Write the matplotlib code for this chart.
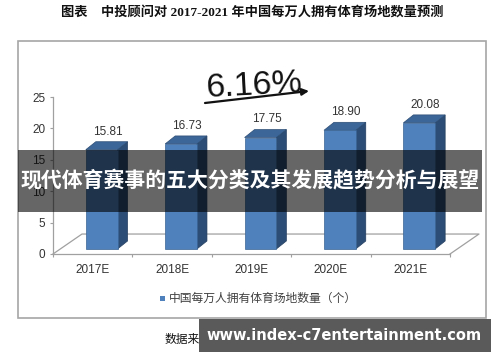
import matplotlib
matplotlib.use("Agg")
import matplotlib.pyplot as plt
from matplotlib.patches import Polygon, Rectangle

plt.rcParams['font.family'] = ['Liberation Sans', 'Noto Sans CJK SC', 'DejaVu Sans']

categories = ['2017E', '2018E', '2019E', '2020E', '2021E']
values = [15.81, 16.73, 17.75, 18.90, 20.08]
value_labels = ['15.81', '16.73', '17.75', '18.90', '20.08']
yticks = [0, 5, 10, 15, 20, 25]
title = '图表    中投顾问对 2017-2021 年中国每万人拥有体育场地数量预测'
legend_label = '中国每万人拥有体育场地数量（个）'
growth = '6.16%'
source = '数据来源：中投顾问产业研究中心'
overlay_text = '现代体育赛事的五大分类及其发展趋势分析与展望'
watermark = 'www.index-c7entertainment.com'

W, H = 500, 362
fig = plt.figure(figsize=(W / 100, H / 100), dpi=100)
fig.patch.set_facecolor('white')

def fx(px):
    return px / W

def fy(py):
    return 1 - py / H

# chart border
fig.add_artist(Rectangle((fx(18), fy(318)), fx(468), 277 / H, fill=False,
                         edgecolor='#a6a6a6', lw=1.2, zorder=1))

ax = fig.add_axes([fx(53), fy(254), 397 / W, (254 - 97) / H])
ax.set_xlim(-0.5, 4.5)
ax.set_ylim(0, 25)
ax.set_facecolor('none')
for s in ['top', 'right']:
    ax.spines[s].set_visible(False)
for s in ['left', 'bottom']:
    ax.spines[s].set_color('#a0a0a0')
    ax.spines[s].set_linewidth(0.9)

ax.set_yticks(yticks)
ax.set_yticklabels([str(t) for t in yticks])
ax.tick_params(axis='y', length=2.5, width=0.8, color='#a0a0a0', pad=3,
               labelsize=8.5, labelcolor='#333333')
ax.set_xticks(range(len(categories)))
ax.set_xticklabels(categories)
ax.set_xticks([i - 0.5 for i in range(len(categories) + 1)], minor=True)
ax.tick_params(axis='x', which='major', length=0, pad=7, labelsize=8.5,
               labelcolor='#333333')
ax.tick_params(axis='x', which='minor', length=2.5, width=0.8, color='#a0a0a0')

# 3D floor
fdx, fdy = 0.365, 3.18
ax.plot([-0.5, -0.5 + fdx, 4.5 + fdx, 4.5], [0, fdy, fdy, 0],
        color='#a0a0a0', lw=0.9, clip_on=False)

# bars (pseudo-3D)
bw = 0.40
ox, oy = 0.113, 0.8      # front offset
ddx, ddy = 0.126, 1.27   # depth
front_c, side_c, top_c = '#4f81bd', '#2c4d75', '#3c6698'
for i, v in enumerate(values):
    x0 = i + ox - bw / 2
    x1 = x0 + bw
    y0 = oy
    y1 = oy + v
    ax.add_patch(Polygon([(x1, y0), (x1 + ddx, y0 + ddy), (x1 + ddx, y1 + ddy), (x1, y1)],
                         closed=True, facecolor=side_c, edgecolor='#243f60', lw=0.5,
                         clip_on=False, zorder=3))
    ax.add_patch(Polygon([(x0, y1), (x0 + ddx, y1 + ddy), (x1 + ddx, y1 + ddy), (x1, y1)],
                         closed=True, facecolor=top_c, edgecolor='#2c4d75', lw=0.5,
                         clip_on=False, zorder=3))
    ax.add_patch(Rectangle((x0, y0), bw, v, facecolor=front_c, edgecolor='#3a6595',
                           lw=0.5, clip_on=False, zorder=3))
    ax.annotate(value_labels[i], (i + 0.19, y1 + ddy), xytext=(0, 3),
                textcoords='offset points', ha='center', va='bottom',
                fontsize=8.5, color='#333333', zorder=4)

# title
fig.text(fx(252), fy(12), title, ha='center', va='center', fontsize=9.5,
         fontweight='bold', family=['Liberation Serif', 'Noto Sans CJK SC', 'DejaVu Sans'],
         color='#111111')

# growth annotation
fig.text(fx(254), fy(94), growth, ha='center', va='baseline', fontsize=24.5,
         rotation=3, rotation_mode='anchor', color='#111111')
ax.annotate('', xy=(fx(309), fy(91)), xytext=(fx(205), fy(103)),
            xycoords='figure fraction', textcoords='figure fraction',
            arrowprops=dict(arrowstyle='-|>', color='#111111', lw=1.6,
                            mutation_scale=10, shrinkA=0, shrinkB=0))

# legend
fig.add_artist(Rectangle((fx(160), fy(301)), 5 / W, 5 / H, facecolor=front_c,
                         edgecolor='none', zorder=2))
fig.text(fx(169), fy(298), legend_label, ha='left', va='center', fontsize=8.5,
         family=['Noto Sans CJK SC', 'DejaVu Sans'], color='#404040')

# source
fig.text(fx(165), fy(339), source, ha='left', va='center', fontsize=8.5,
         family=['Noto Sans CJK SC', 'DejaVu Sans'], color='#111111')

# overlay band
fig.add_artist(Rectangle((fx(18), fy(212)), 464 / W, 62 / H, facecolor='black',
                         alpha=0.6, edgecolor='none', zorder=10))
fig.text(fx(250), fy(181), overlay_text, ha='center', va='center', fontsize=15,
         fontweight='bold', color='white', family=['Noto Sans CJK SC', 'DejaVu Sans'],
         zorder=11)

# watermark
fig.add_artist(Rectangle((fx(199), fy(352)), 292 / W, 33 / H, facecolor='#5a5a5a',
                         edgecolor='none', zorder=10))
fig.text(fx(344), fy(335), watermark, ha='center', va='center', fontsize=10.5,
         fontweight='bold', color='white', family=['DejaVu Sans'], zorder=11)

fig.savefig('out.png', dpi=100)
